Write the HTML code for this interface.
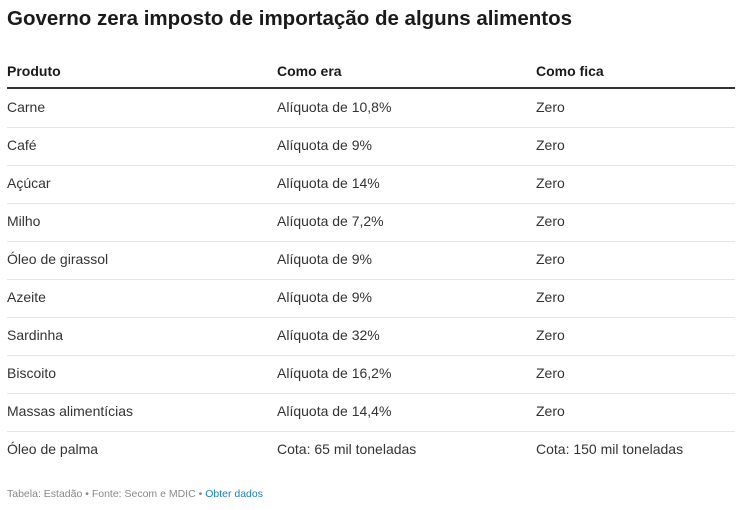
<!DOCTYPE html>
<html><head><meta charset="utf-8"><style>
body{margin:0;width:741px;height:510px;background:#fff;font-family:"Liberation Sans",sans-serif;color:#333;position:relative;overflow:hidden}
.a{position:absolute;white-space:nowrap}
.t{left:7px;top:7px;font-size:20.5px;font-weight:bold;color:#1a1a1a}
.h{font-size:14px;font-weight:bold;color:#1a1a1a;top:63px}
.c{font-size:14px;color:#333}
.line{position:absolute;left:7px;width:728px;height:1px;background:#e6e6e6}
.foot{left:7px;top:488px;font-size:10.5px;color:#888}
.foot span{color:#1a7fc1}
</style></head><body>
<div class="a t">Governo zera imposto de importação de alguns alimentos</div>
<div class="a h" style="left:7px">Produto</div>
<div class="a h" style="left:277px">Como era</div>
<div class="a h" style="left:536px">Como fica</div>
<div style="position:absolute;left:7px;top:87px;width:728px;height:2px;background:#333"></div>
<div id="rows"></div>
<div class="a foot">Tabela: Estadão • Fonte: Secom e MDIC • <span>Obter dados</span></div>
<script>
const produtos=["Carne","Café","Açúcar","Milho","Óleo de girassol","Azeite","Sardinha","Biscoito","Massas alimentícias","Óleo de palma"];
const comoEra=["Alíquota de 10,8%","Alíquota de 9%","Alíquota de 14%","Alíquota de 7,2%","Alíquota de 9%","Alíquota de 9%","Alíquota de 32%","Alíquota de 16,2%","Alíquota de 14,4%","Cota: 65 mil toneladas"];
const comoFica=["Zero","Zero","Zero","Zero","Zero","Zero","Zero","Zero","Zero","Cota: 150 mil toneladas"];
const root=document.getElementById('rows');
produtos.forEach((p,i)=>{
  const y=99+38*i;
  [[p,7],[comoEra[i],277],[comoFica[i],536]].forEach(([txt,x],j)=>{
    const d=document.createElement('div');
    d.className='a c';d.style.left=x+'px';d.style.top=y+'px';d.textContent=txt;
    
    
    root.appendChild(d);
  });
  if(i<produtos.length-1){
    const l=document.createElement('div');
    l.className='line';l.style.top=(127+38*i)+'px';
    
    
    root.appendChild(l);
  }
});
</script>
</body></html>
